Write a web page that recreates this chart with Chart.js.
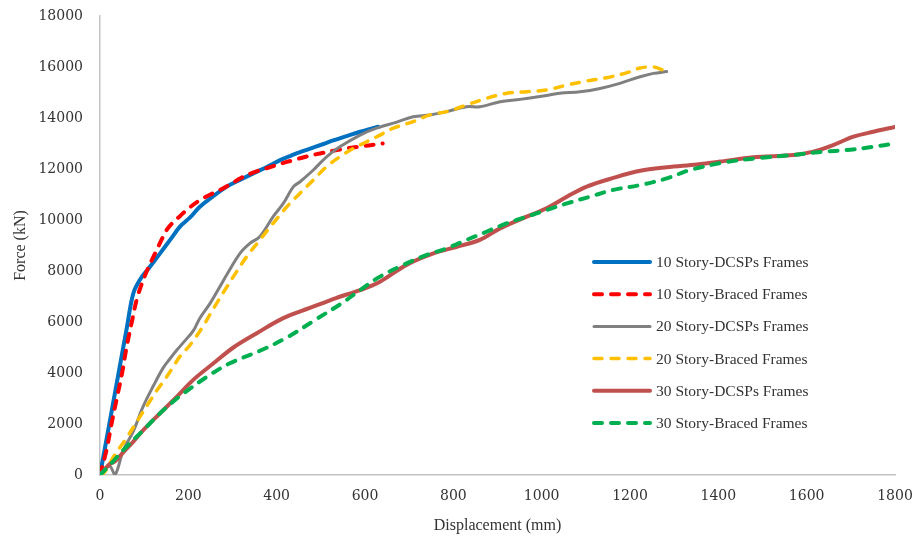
<!DOCTYPE html>
<html>
<head>
<meta charset="utf-8">
<title>Pushover curves</title>
<script src="https://cdn.jsdelivr.net/npm/chart.js@4"></script>
<style>
  html, body { margin: 0; padding: 0; background: #ffffff; }
  #wrap { width: 917px; height: 537px; }
</style>
</head>
<body>
<div id="wrap"><canvas id="chart" width="917" height="537"></canvas></div>
<script>
// Axis ticks
const xTicks = [0, 200, 400, 600, 800, 1000, 1200, 1400, 1600, 1800];
const yTicks = [0, 2000, 4000, 6000, 8000, 10000, 12000, 14000, 16000, 18000];

// Series labels
const seriesLabels = [
  '10 Story-DCSPs Frames',
  '10 Story-Braced Frames',
  '20 Story-DCSPs Frames',
  '20 Story-Braced Frames',
  '30 Story-DCSPs Frames',
  '30 Story-Braced Frames'
];

// Displacement (mm) / Force (kN) for each frame
const dcsp10X = [0, 20, 40, 60, 75, 90, 110, 136, 160, 181, 204, 226, 250, 287, 320, 347, 380, 408, 438, 468, 506, 528, 560, 589, 630];
const dcsp10Y = [0, 1900, 3800, 5700, 7100, 7650, 8100, 8690, 9250, 9740, 10100, 10520, 10850, 11310, 11600, 11830, 12100, 12350, 12560, 12750, 12980, 13120, 13300, 13460, 13660];

const braced10X = [0, 15, 26, 38, 50, 60, 72, 85, 106, 125, 140, 151, 165, 181, 200, 226, 250, 272, 300, 317, 345, 377, 408, 438, 470, 498, 530, 558, 590, 626, 640];
const braced10Y = [0, 1000, 2000, 3000, 4000, 5000, 6000, 7000, 8000, 8700, 9250, 9610, 9900, 10150, 10450, 10780, 11000, 11180, 11450, 11630, 11850, 12030, 12200, 12350, 12500, 12610, 12720, 12810, 12880, 12970, 13000];

const dcsp20X = [0, 12, 23, 34, 53, 75, 98, 121, 143, 158, 174, 194, 211, 226, 250, 272, 287, 317, 340, 362, 392, 415, 438, 453, 483, 513, 543, 589, 626, 672, 709, 747, 785, 830, 860, 906, 951, 996, 1041, 1087, 1132, 1177, 1223, 1253, 1283];
const dcsp20Y = [0, 250, 330, 0, 980, 1700, 2700, 3500, 4200, 4550, 4900, 5300, 5650, 6150, 6750, 7400, 7850, 8690, 9090, 9350, 10130, 10650, 11310, 11500, 11960, 12480, 12870, 13330, 13600, 13840, 14050, 14120, 14250, 14440, 14440, 14640, 14730, 14840, 14970, 15030, 15160, 15360, 15620, 15750, 15820];

const braced20X = [0, 10, 30, 60, 91, 113, 128, 151, 166, 181, 204, 234, 249, 264, 279, 302, 332, 362, 392, 423, 453, 483, 513, 543, 574, 604, 634, 664, 709, 747, 785, 830, 875, 921, 966, 1011, 1057, 1102, 1147, 1192, 1223, 1253, 1275, 1287];
const braced20Y = [0, 100, 700, 1450, 2300, 2900, 3300, 3850, 4250, 4650, 5100, 5850, 6300, 6730, 7150, 7780, 8560, 9220, 9870, 10520, 11050, 11570, 12090, 12480, 12810, 13070, 13330, 13600, 13860, 14120, 14250, 14510, 14770, 14970, 15030, 15100, 15290, 15450, 15580, 15770, 15960, 16000, 15880, 15820];

const dcsp30X = [0, 20, 35, 53, 75, 98, 136, 174, 211, 257, 302, 355, 415, 475, 536, 589, 634, 694, 755, 808, 860, 906, 966, 1011, 1057, 1102, 1162, 1223, 1283, 1351, 1404, 1479, 1570, 1615, 1660, 1706, 1751, 1800];
const dcsp30Y = [0, 400, 550, 900, 1300, 1760, 2420, 3070, 3730, 4380, 5000, 5560, 6150, 6550, 6950, 7250, 7580, 8240, 8690, 8950, 9220, 9670, 10130, 10460, 10910, 11310, 11650, 11930, 12070, 12180, 12290, 12460, 12550, 12680, 12940, 13270, 13460, 13650];

const braced30X = [0, 20, 53, 98, 136, 174, 189, 242, 294, 366, 426, 487, 547, 589, 634, 687, 740, 785, 830, 875, 921, 966, 1011, 1057, 1109, 1162, 1223, 1283, 1336, 1411, 1487, 1570, 1638, 1690, 1751, 1800];
const braced30Y = [0, 350, 980, 1760, 2420, 3000, 3200, 3850, 4380, 4900, 5420, 6080, 6730, 7250, 7780, 8240, 8630, 8890, 9220, 9540, 9870, 10130, 10390, 10650, 10910, 11180, 11370, 11630, 11960, 12250, 12420, 12550, 12680, 12740, 12870, 13000];

const seriesX = [dcsp10X, braced10X, dcsp20X, braced20X, dcsp30X, braced30X];
const seriesY = [dcsp10Y, braced10Y, dcsp20Y, braced20Y, dcsp30Y, braced30Y];

const lineColors = ['#0070C0', '#FF0000', '#808080', '#FFC000', '#C0504D', '#00B050'];
const lineWidths = [4, 4, 3, 3.5, 4, 4];
const lineDashes = [[], [8, 9], [], [8, 9], [], [8, 9]];

const serifTick = '"DejaVu Serif", "Liberation Serif", serif';
const serifText = '"Liberation Serif", "DejaVu Serif", serif';
const textColor = '#333333';
const axisColor = '#C4C4C4';

const datasets = seriesLabels.map((label, i) => ({
  label,
  data: seriesX[i].map((x, k) => ({ x, y: seriesY[i][k] })),
  showLine: true,
  borderColor: lineColors[i],
  backgroundColor: lineColors[i],
  borderWidth: lineWidths[i],
  borderDash: lineDashes[i],
  borderCapStyle: 'round',
  borderJoinStyle: 'round',
  pointRadius: 0,
  pointHoverRadius: 0,
  tension: 0.35,
  fill: false,
  order: seriesLabels.length - i
}));

// Legend drawn inside the plot area, right side
const insideLegend = {
  id: 'insideLegend',
  afterDraw(chart) {
    const ctx = chart.ctx;
    const left = 592, top = 262, gap = 32.2, sample = 60;
    ctx.save();
    chart.data.datasets.forEach((ds, i) => {
      const y = top + i * gap;
      ctx.strokeStyle = ds.borderColor;
      ctx.lineWidth = ds.borderWidth;
      ctx.lineCap = 'round';
      ctx.setLineDash(ds.borderDash);
      ctx.beginPath();
      ctx.moveTo(left + 2, y);
      ctx.lineTo(left + sample - 2, y);
      ctx.stroke();
      ctx.setLineDash([]);
      ctx.fillStyle = textColor;
      ctx.font = '15.5px ' + serifText;
      ctx.textBaseline = 'middle';
      ctx.textAlign = 'left';
      ctx.fillText(ds.label, left + sample + 4, y + 1);
    });
    ctx.restore();
  }
};

new Chart(document.getElementById('chart'), {
  type: 'scatter',
  data: { datasets },
  plugins: [insideLegend],
  options: {
    responsive: false,
    animation: false,
    events: [],
    layout: { padding: { left: 0, right: 22, top: 16, bottom: 0 } },
    plugins: {
      legend: { display: false },
      tooltip: { enabled: false }
    },
    scales: {
      x: {
        type: 'linear',
        min: xTicks[0],
        max: xTicks[xTicks.length - 1],
        afterBuildTicks(scale) { scale.ticks = xTicks.map(v => ({ value: v })); },
        afterFit(scale) {
          scale.height = 62;
          scale.paddingLeft = 0;
          scale.paddingRight = 0;
        },
        grid: { display: false, drawTicks: false },
        border: { display: true, color: axisColor, width: 1.5 },
        ticks: {
          padding: 13,
          color: textColor,
          font: { family: serifTick, size: 14 },
          maxRotation: 0,
          callback: v => String(v)
        },
        title: {
          display: true,
          text: 'Displacement (mm)',
          color: textColor,
          font: { family: serifText, size: 16 },
          padding: { top: 0, bottom: 2 }
        }
      },
      y: {
        type: 'linear',
        min: yTicks[0],
        max: yTicks[yTicks.length - 1],
        afterBuildTicks(scale) { scale.ticks = yTicks.map(v => ({ value: v })); },
        afterFit(scale) {
          scale.width = 100;
          scale.paddingTop = 0;
          scale.paddingBottom = 0;
        },
        grid: { display: false, drawTicks: false },
        border: { display: true, color: axisColor, width: 1.5 },
        ticks: {
          padding: 17,
          color: textColor,
          font: { family: serifTick, size: 14 },
          callback: v => String(v)
        },
        title: {
          display: true,
          text: 'Force (kN)',
          color: textColor,
          font: { family: serifText, size: 16 },
          padding: { top: 11, bottom: 0 }
        }
      }
    }
  }
});
</script>
</body>
</html>
